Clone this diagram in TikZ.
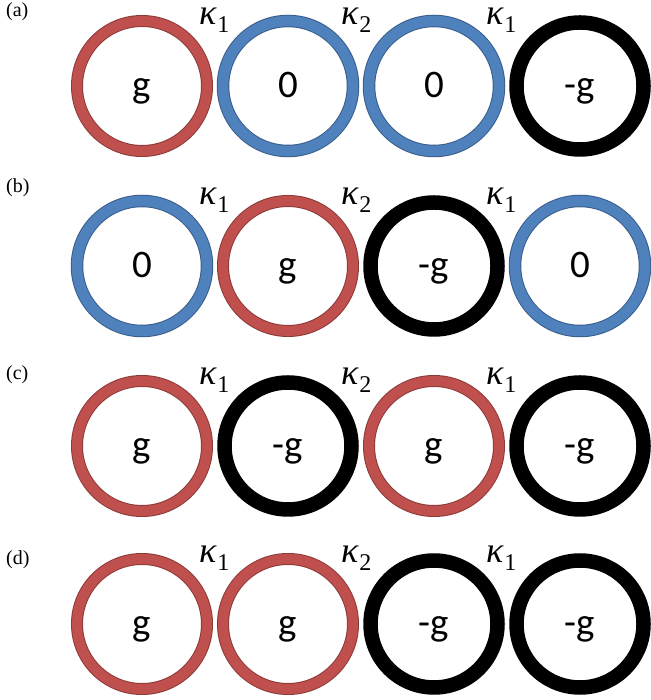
\documentclass[tikz,border=0pt]{standalone}
\usepackage{fontspec}
\setmainfont{Carlito}
\newfontfamily\seriffont{Liberation Serif}
\definecolor{redfill}{HTML}{C0504D}
\definecolor{reddark}{HTML}{8C3A38}
\definecolor{bluefill}{HTML}{4F81BD}
\definecolor{bluedark}{HTML}{385D8A}
\newcommand{\kapsub}[1]{{\seriffont\itshape κ}\kern1pt\raisebox{-8pt}{\fontsize{24}{24}\selectfont\seriffont #1}}
\tikzset{
  ring/.style={circle, inner sep=0pt, minimum size=130pt, text height=24pt, text depth=0pt,
    font=\fontsize{39}{39}\selectfont},
  rr/.style={ring, draw=reddark, double=redfill, double distance=10pt, line width=1pt},
  bb/.style={ring, draw=bluedark, double=bluefill, double distance=10.5pt, line width=1pt},
  kk/.style={ring, draw=black, line width=14.5pt, minimum size=127pt},
  kap/.style={anchor=base west, inner sep=0pt, text height=18pt, text depth=8pt,
    font=\fontsize{36}{36}\selectfont},
  panel/.style={anchor=base west, inner sep=0pt, font=\fontsize{20}{20}\selectfont\seriffont}
}
\begin{document}
\begin{tikzpicture}[x=1pt,y=1pt]
\useasboundingbox (0,0) rectangle (650,700);
\fill[white] (0,0) rectangle (650,700);
% row a
\node[panel] (pa) at (6,683) {(a)};
\node[rr] (a1) at (142,614) {g};
\node[bb] (a2) at (288,614) {0};
\node[bb] (a3) at (434,614) {0};
\node[kk] (a4) at (580,614) {-g};
\node[kap] (ka1) at (199,675) {\kapsub{1}};
\node[kap] (ka2) at (341,675) {\kapsub{2}};
\node[kap] (ka3) at (486,675) {\kapsub{1}};
% row b
\node[panel] (pb) at (6,507) {(b)};
\node[bb] (b1) at (142,434) {0};
\node[rr] (b2) at (288,434) {g};
\node[kk] (b3) at (434,434) {-g};
\node[bb] (b4) at (580,434) {0};
\node[kap] (kb1) at (199,495) {\kapsub{1}};
\node[kap] (kb2) at (341,495) {\kapsub{2}};
\node[kap] (kb3) at (486,495) {\kapsub{1}};
% row c
\node[panel] (pc) at (6,320) {(c)};
\node[rr] (c1) at (142,254) {g};
\node[kk] (c2) at (288,254) {-g};
\node[rr] (c3) at (434,254) {g};
\node[kk] (c4) at (580,254) {-g};
\node[kap] (kc1) at (199,315) {\kapsub{1}};
\node[kap] (kc2) at (341,315) {\kapsub{2}};
\node[kap] (kc3) at (486,315) {\kapsub{1}};
% row d
\node[panel] (pd) at (6,135) {(d)};
\node[rr] (d1) at (142,76) {g};
\node[rr] (d2) at (288,76) {g};
\node[kk] (d3) at (434,76) {-g};
\node[kk] (d4) at (580,76) {-g};
\node[kap] (kd1) at (199,137) {\kapsub{1}};
\node[kap] (kd2) at (341,137) {\kapsub{2}};
\node[kap] (kd3) at (486,137) {\kapsub{1}};
\end{tikzpicture}
\end{document}
